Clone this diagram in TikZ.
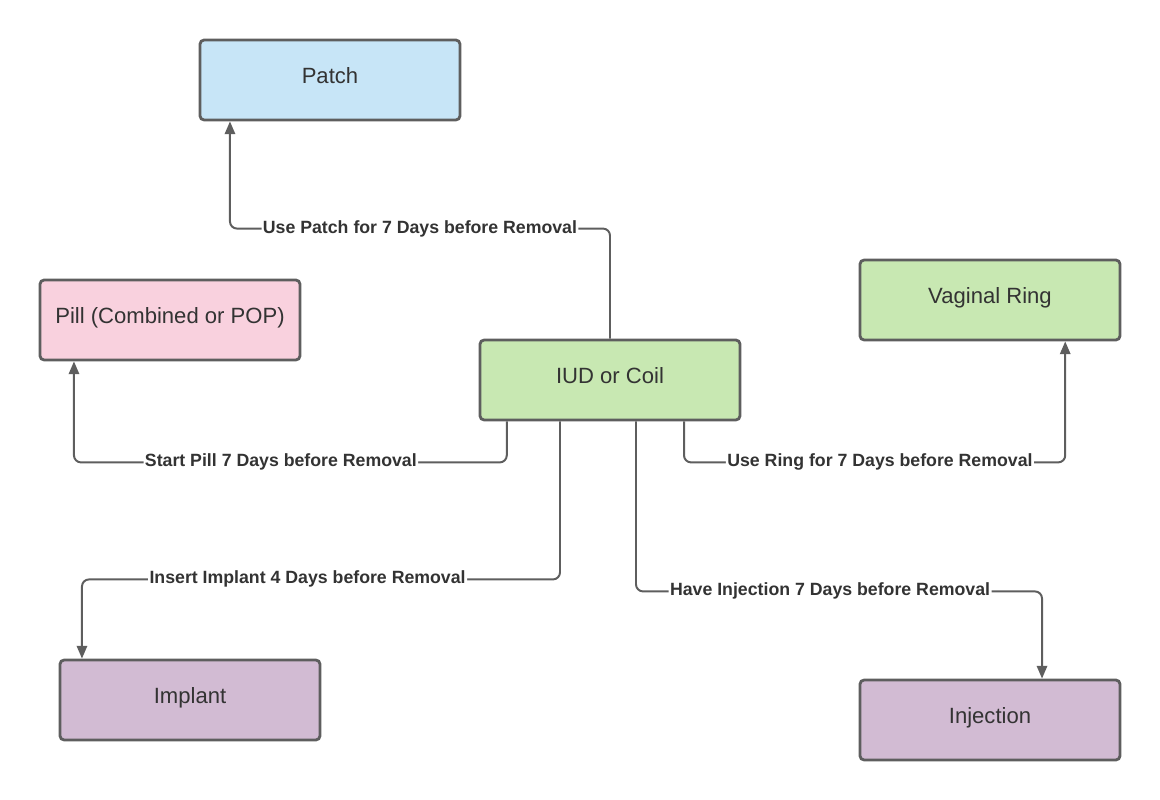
\documentclass[tikz,border=0pt]{standalone}
\usepackage{fontspec}
\setmainfont{Liberation Sans}
\usetikzlibrary{arrows.meta}
\definecolor{edgegray}{HTML}{5E5E5E}
\definecolor{txtgray}{HTML}{333333}
\definecolor{patchblue}{HTML}{C7E5F7}
\definecolor{pillpink}{HTML}{F9D1DE}
\definecolor{ringgreen}{HTML}{C8E8B2}
\definecolor{implpurple}{HTML}{D2BBD3}

\begin{document}
\begin{tikzpicture}[x=0.025cm, y=-0.025cm, >={Triangle[length=0.32cm,width=0.26cm]},
    box/.style={draw=edgegray, line width=2pt, rounded corners=3pt, minimum width=6.5cm,
        minimum height=2cm, text=txtgray, text height=0.75em, text depth=0.3em,
        font=\fontsize{15.7}{19}\selectfont},
    conn/.style={->, draw=edgegray, line width=1.4pt, rounded corners=5pt},
    lbl/.style={fill=white, inner sep=1pt, text=txtgray, font=\fontsize{12.6}{15}\selectfont\bfseries}]
    \useasboundingbox (0,0) rectangle (1160,800);

    % Boxes
    \node[box, fill=patchblue] (patch) at (330,80) {Patch};
    \node[box, fill=pillpink] (pill) at (170,320) {Pill (Combined or POP)};
    \node[box, fill=ringgreen] (ring) at (990,300) {Vaginal Ring};
    \node[box, fill=ringgreen] (iud) at (610,380) {IUD or Coil};
    \node[box, fill=implpurple] (implant) at (190,700) {Implant};
    \node[box, fill=implpurple] (injection) at (990,720) {Injection};

    % Connectors from IUD
    \draw[conn] (iud.north) -- ++(0,-110) -| node[lbl, pos=0.25] {Use Patch for 7 Days before Removal} ([xshift=-2.5cm]patch.south);
    \draw[conn] ([xshift=-2.58cm]iud.south) -- ++(0,41) -| node[lbl, pos=0.261] {Start Pill 7 Days before Removal} ([xshift=-2.4cm]pill.south);
    \draw[conn] ([xshift=-1.25cm]iud.south) -- ++(0,158) -| node[lbl, pos=0.264] {Insert Implant 4 Days before Removal} ([xshift=-2.7cm]implant.north);
    \draw[conn] ([xshift=0.65cm]iud.south) -- ++(0,170) -| node[lbl, pos=0.239] {Have Injection 7 Days before Removal} ([xshift=1.3cm]injection.north);
    \draw[conn] ([xshift=1.85cm]iud.south) -- ++(0,41) -| node[lbl, pos=0.257] {Use Ring for 7 Days before Removal} ([xshift=1.88cm]ring.south);
\end{tikzpicture}
\end{document}
